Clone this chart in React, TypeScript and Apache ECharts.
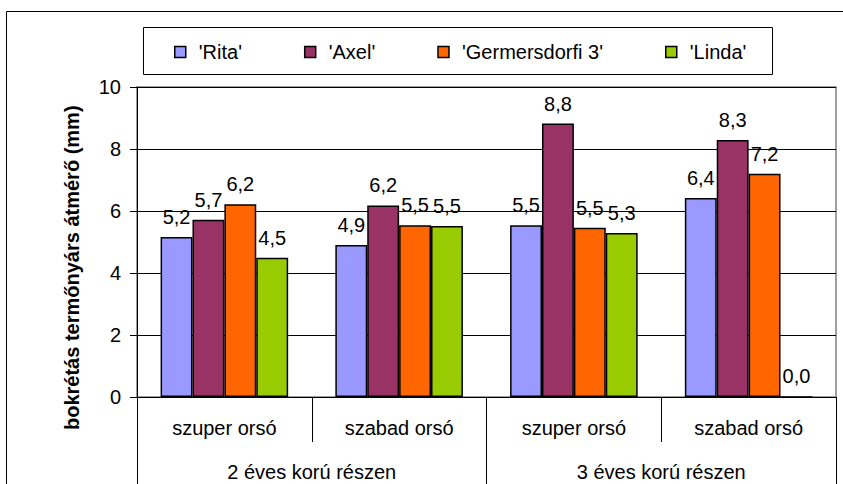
import React, { useEffect, useRef } from "react";
import * as echarts from "echarts";

const subCategories = ["szuper orsó", "szabad orsó", "szuper orsó", "szabad orsó"];
const groupCategories = ["2 éves korú részen", "3 éves korú részen"];
const seriesNames = ["'Rita'", "'Axel'", "'Germersdorfi 3'", "'Linda'"];
const rita = [5.16, 4.9, 5.54, 6.42];
const axel = [5.72, 6.18, 8.82, 8.29];
const germersdorfi = [6.22, 5.54, 5.46, 7.2];
const linda = [4.49, 5.52, 5.29, 0];
const yTicks = [0, 2, 4, 6, 8, 10];
const yAxisTitle = "bokrétás termőnyárs átmérő (mm)";

const colors = ["#9999FF", "#993366", "#FF6600", "#99CC00"];
const FONT = "'Liberation Sans', Arial, sans-serif";

export default function App() {
  const ref = useRef<HTMLDivElement>(null);
  useEffect(() => {
    if (!ref.current) return;
    const chart = echarts.init(ref.current, undefined, { renderer: "svg" });
    const values = [rita, axel, germersdorfi, linda];
    const option: any = {
      animation: false,
      backgroundColor: "#ffffff",
      textStyle: { fontFamily: FONT, color: "#000" },
      grid: {
        left: 137,
        right: 7,
        top: 87,
        bottom: 87,
        show: true,
        borderColor: "#808080",
        borderWidth: 1.5,
        backgroundColor: "transparent",
      },
      legend: {
        left: 174,
        top: 42,
        padding: 0,
        itemGap: 62,
        itemWidth: 11,
        itemHeight: 11,
        icon: "rect",
        data: seriesNames,
        itemStyle: { borderColor: "#000", borderWidth: 1.5 },
        textStyle: { fontFamily: FONT, fontSize: 20, color: "#000", padding: [0, 0, 0, 8] },
      },
      xAxis: [
        {
          type: "category",
          data: subCategories,
          position: "bottom",
          axisLine: { show: true, lineStyle: { color: "#000", width: 1 } },
          axisTick: { show: true, interval: 0, length: 45, lineStyle: { color: "#000" } },
          axisLabel: { interval: 0, margin: 21, fontSize: 20, color: "#000", fontFamily: FONT },
          splitLine: { show: false },
        },
        {
          type: "category",
          data: groupCategories,
          position: "bottom",
          gridIndex: 0,
          axisLine: { show: false },
          axisTick: { show: true, interval: 0, length: 90, lineStyle: { color: "#000" } },
          axisLabel: { interval: 0, margin: 65, fontSize: 20, color: "#000", fontFamily: FONT },
          splitLine: { show: false },
        },
      ],
      yAxis: {
        type: "value",
        min: yTicks[0],
        max: yTicks[yTicks.length - 1],
        interval: 2,
        axisLine: { show: true, lineStyle: { color: "#000", width: 1 } },
        axisTick: { show: true, length: 7, lineStyle: { color: "#000" } },
        axisLabel: { margin: 16, fontSize: 20, color: "#000", fontFamily: FONT },
        splitLine: { show: true, lineStyle: { color: "#000", width: 1 } },
      },
      series: seriesNames.map((name, i) => ({
        name,
        type: "bar",
        xAxisIndex: 0,
        data: values[i],
        barGap: "0%",
        barCategoryGap: "27%",
        itemStyle: { color: colors[i], borderColor: "#000", borderWidth: 1.5 },
        label: {
          show: true,
          position: "top",
          distance: 10,
          fontSize: 20,
          color: "#000",
          fontFamily: FONT,
          formatter: (p: any) => Number(p.value).toFixed(1).replace(".", ","),
        },
      })),
      graphic: [
        {
          type: "rect",
          z: 0,
          silent: true,
          shape: { x: 6.5, y: 11.5, width: 900, height: 600 },
          style: { fill: "none", stroke: "#000", lineWidth: 1 },
        },
        {
          type: "rect",
          z: 0,
          silent: true,
          shape: { x: 143.5, y: 27.5, width: 629, height: 47 },
          style: { fill: "none", stroke: "#000", lineWidth: 1 },
        },
        {
          type: "text",
          x: 72,
          y: 430,
          rotation: Math.PI / 2,
          silent: true,
          style: {
            text: yAxisTitle,
            fontFamily: FONT,
            fontSize: 20,
            fontWeight: "bold",
            fill: "#000",
            textAlign: "left",
            textVerticalAlign: "middle",
          },
        },
      ],
    };
    chart.setOption(option);
    return () => chart.dispose();
  }, []);
  return (
    <div
      ref={ref}
      style={{ position: "absolute", left: 0, top: 0, width: 843, height: 484 }}
    />
  );
}
